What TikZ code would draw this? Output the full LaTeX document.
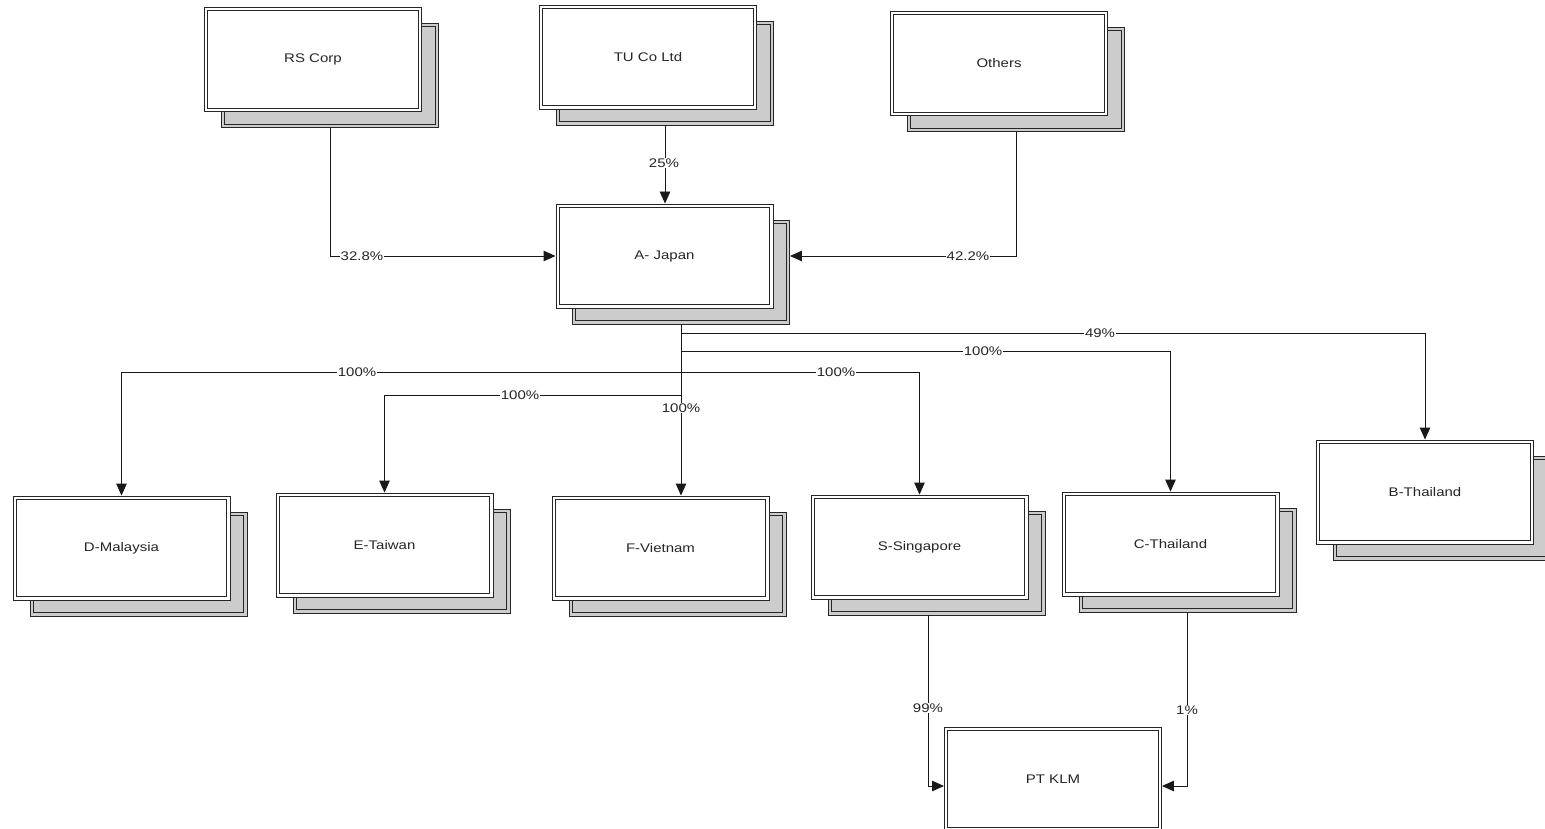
\documentclass[tikz,border=0pt]{standalone}
\usepackage{fontspec}
\setmainfont{Liberation Sans}
\newfontfamily\boxfont[FakeStretch=1.2]{Liberation Sans}
\usetikzlibrary{arrows.meta,calc}
\begin{document}
\begin{tikzpicture}[x=1pt,y=-1pt,
  box/.style={draw=black!85, line width=0.9pt, fill=white,
    minimum width=217pt, minimum height=104pt, inner sep=0pt,
    font=\boxfont\fontsize{12.5}{14}\selectfont, text=black!85,
    path picture={\draw[black!85, line width=0.9pt]
      ([shift={(3.2pt,3.2pt)}]path picture bounding box.south west) rectangle
      ([shift={(-3.2pt,-3.2pt)}]path picture bounding box.north east);}},
  shadowbox/.style={box, fill=gray!40},
  arr/.style={draw=black!90, line width=0.9pt, -{Triangle[length=12pt,width=10.5pt]}},
  lbl/.style={fill=white, inner sep=1pt, font=\boxfont\fontsize{12.5}{14}\selectfont, text=black!85}]
\useasboundingbox (0,0) rectangle (1545,829);
\clip (0,0) rectangle (1545,829);
\fill[white] (0,0) rectangle (1545,829);

% shadows
\node[shadowbox] (rss) at (330,75.5) {};
\node[shadowbox] (tus) at (665,73) {};
\node[shadowbox] (ots) at (1016,79.5) {};
\node[shadowbox] (ajs) at (681,272) {};
\node[shadowbox] (dms) at (138.5,564) {};
\node[shadowbox] (ets) at (401.5,561) {};
\node[shadowbox] (fvs) at (677.5,564) {};
\node[shadowbox] (sss) at (936.5,563) {};
\node[shadowbox] (cts) at (1187.5,560) {};
\node[shadowbox] (bts) at (1442,508) {};

% front boxes
\node[box] (rs) at (313,59.5) {RS Corp};
\node[box] (tu) at (648,57) {TU Co Ltd};
\node[box] (ot) at (999,63.5) {Others};
\node[box] (aj) at (664.5,256) {A- Japan};
\node[box] (dm) at (121.5,548) {D-Malaysia};
\node[box] (et) at (384.5,545) {E-Taiwan};
\node[box] (fv) at (660.5,548) {F-Vietnam};
\node[box] (ss) at (919.5,547) {S-Singapore};
\node[box] (ct) at (1170.5,544) {C-Thailand};
\node[box] (bt) at (1425,492) {B-Thailand};
\node[box] (pk) at (1053,779) {PT KLM};

% bus levels
\coordinate (b49) at (0,333);
\coordinate (bC) at (0,351);
\coordinate (bDS) at (0,372);
\coordinate (bE) at (0,395);
\coordinate (sx) at (928,0);

% connectors
\draw[arr] (rss.south) |- (aj.west);
\draw[arr] (tus.south) -- (tus.south |- aj.north);
\draw[arr] (ots.south) |- (aj.west -| ajs.east);
\draw[arr] (ajs.south) |- (b49 -| bt.north) -- (bt.north);
\draw[arr] (ajs.south) |- (bC -| ct.north) -- (ct.north);
\draw[arr] (ajs.south) |- (bDS -| dm.north) -- (dm.north);
\draw[arr] (ajs.south) |- (bDS -| ss.north) -- (ss.north);
\draw[arr] (ajs.south) |- (bE -| et.north) -- (et.north);
\draw[arr] (ajs.south) -- (ajs.south |- fv.north);
\draw[arr] (sx |- sss.south) |- ([yshift=-7pt]pk.west);
\draw[arr] (cts.south) |- ([yshift=-7pt]pk.east);

% labels
\node[lbl] (l1) at (362,256) {32.8\%};
\node[lbl] (l2) at (664,163) {25\%};
\node[lbl] (l3) at (968,256) {42.2\%};
\node[lbl] (l4) at (1100,333) {49\%};
\node[lbl] (l5) at (983,351) {100\%};
\node[lbl] (l6) at (357,372) {100\%};
\node[lbl] (l7) at (836,372) {100\%};
\node[lbl] (l8) at (520,395) {100\%};
\node[lbl] (l9) at (681,408) {100\%};
\node[lbl] (l10) at (928,708) {99\%};
\node[lbl] (l11) at (1187,710) {1\%};
\end{tikzpicture}
\end{document}
